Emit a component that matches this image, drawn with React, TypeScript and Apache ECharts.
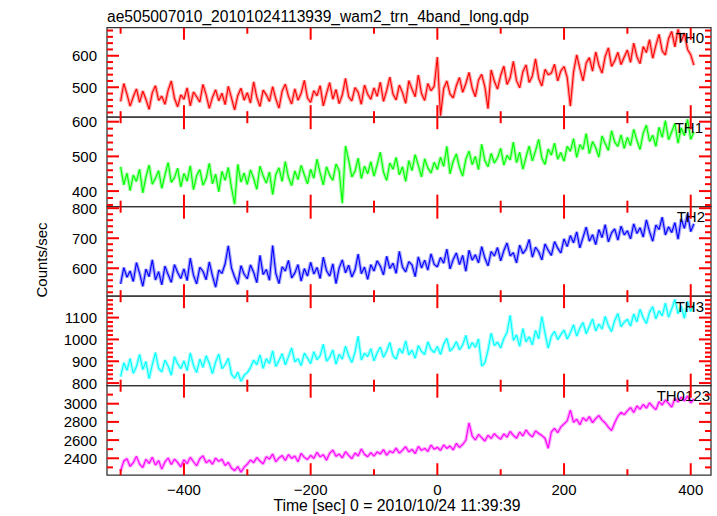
import React, { useEffect, useRef } from 'react';
import * as echarts from 'echarts';

// ---------------- data ----------------
const TITLE = 'ae505007010_20101024113939_wam2_trn_4band_long.qdp';
const X_NAME = 'Time [sec] 0 = 2010/10/24 11:39:39';
const Y_NAME = 'Counts/sec';

const T_START = -500; // time of first bin (sec)
const T_STEP = 5; // bin width (sec)

const X_MIN = -521.5;
const X_MAX = 432;
const X_MAJOR = [-400, -200, 0, 200, 400];
const X_MINOR = [-500, -300, -100, 100, 300];

const BANDS = ['TH0', 'TH1', 'TH2', 'TH3', 'TH0123'];

const TH0 = [
  455, 512, 478, 440, 470, 495, 452, 488, 461, 430, 483, 505, 458, 472, 446, 490, 520, 465, 438, 476,
  462, 498, 441, 485, 470, 453, 509, 476, 433, 468, 492, 457, 481, 445, 503, 466, 428, 474, 497, 459,
  483, 450, 517, 468, 439, 491, 476, 455, 502, 463, 434, 488, 510, 471, 447, 495, 459, 481, 522, 466,
  452, 489, 473, 505, 441, 480, 515, 462, 493, 448, 476, 528, 470, 457, 499, 484, 446, 507, 478, 462,
  498, 471, 516, 455, 490, 532, 478, 460, 507, 483, 449, 521, 494, 470, 539, 480, 458, 512, 489, 503,
  596, 410, 496, 520, 478, 466, 505, 531, 484, 512, 547, 497, 470, 523, 541, 502, 432, 555, 519, 494,
  538, 567, 509, 530, 582, 521, 498, 549, 571, 515, 536, 590, 528, 504, 557, 540, 545, 573, 520, 552,
  566, 531, 440, 548, 603, 559, 520, 577, 594, 551, 612, 570, 545, 598, 625, 566, 584, 611, 572, 596,
  618, 579, 640, 597, 575, 629, 610, 651, 592, 633, 668, 615, 603, 655, 677, 628, 684, 646, 672, 620,
  603, 570,
];

const TH1 = [
  470, 418, 452, 401, 446, 428, 463, 395, 441, 475, 420, 437, 459, 408, 447, 482, 425, 439, 466, 412,
  451, 429, 473, 404, 444, 462, 417, 436, 480, 421, 449, 398, 457, 431, 468, 410, 362, 477, 426, 452,
  419, 461, 437, 405, 472, 444, 423, 455, 390, 448, 467, 428, 485, 439, 416, 458, 433, 474, 447, 421,
  463, 437, 492, 452, 418, 470, 446, 431, 478, 459, 365, 530, 489, 441, 457, 495, 436, 472, 450, 485,
  443, 476, 512, 455, 431, 481, 463, 497, 447, 470, 428, 488, 459, 505, 474, 441, 493, 467, 452, 483,
  462, 498, 471, 529, 450, 486, 507, 468, 443, 492, 515, 476, 500, 462, 535, 488, 470, 509, 481, 496,
  523, 475, 503, 490, 541, 482, 512, 463, 498, 530, 487, 516, 549, 495, 477, 521, 504, 538, 492, 511,
  486, 529, 515, 551, 497, 534, 520, 566, 508, 543, 525, 498, 559, 537, 517, 574, 541, 529, 562, 523,
  555, 531, 578, 546, 520, 567, 590, 543, 561, 529, 584, 555, 603, 548, 571, 595, 538, 582, 560, 607,
  549, 571,
];

const TH2 = [
  548, 602, 570, 591, 556, 619, 583, 540, 597, 572, 628, 561, 589, 545, 607, 579, 553, 612, 586, 566,
  598, 559, 634, 577, 548, 603, 590, 562, 621, 575, 537, 594, 583, 615, 675, 601, 571, 547, 609, 580,
  565, 611, 587, 552, 643, 579, 596, 560, 676, 583, 549, 605, 591, 626, 568, 584, 612, 557, 599, 574,
  620, 581, 603, 566, 637, 592, 574, 615, 549, 601, 628, 585, 610, 571, 594, 647, 582, 604, 563, 612,
  591, 625, 607, 578, 640, 599, 617, 583, 656, 604, 588, 622, 611, 572, 638, 601, 627, 594, 648, 613,
  605, 636, 617, 664, 598, 629, 651, 612, 643, 590, 660, 627, 645, 618, 672, 634, 608, 656, 641, 669,
  625, 659, 684, 641, 652, 618, 677, 649, 663, 696, 637, 670, 655, 628, 681, 660, 643, 689, 667, 651,
  698, 672, 709, 685, 721, 668, 703, 737, 690, 712, 679, 729, 702, 745, 688, 718, 731, 694, 740, 711,
  725, 698, 748, 716, 735, 704, 761, 722, 690, 744, 729, 770, 711, 738, 719, 752, 697, 764, 733, 781,
  722, 748,
];

const TH3 = [
  830, 893, 858, 912, 845, 876, 931, 862, 899, 820, 884, 940, 867, 851, 905, 878, 836, 921, 889, 866,
  902, 857, 938, 881, 848, 910, 872, 925, 890, 843, 897, 933, 866, 884, 914, 840, 822, 851, 808, 836,
  848, 871, 905, 884, 929, 867, 912, 890, 948, 876, 903, 935, 884, 921, 961, 897, 912, 880, 937, 915,
  889, 944, 907, 926, 978, 901, 918, 952, 887, 932, 910, 969, 925, 894, 941, 1015, 906, 937, 921, 958,
  902, 939, 965, 918, 947, 986, 925, 910, 958, 937, 993, 929, 951, 914, 972, 945, 931, 989, 954, 940,
  968, 931, 979, 1005, 946, 962, 990, 953, 975, 1018, 957, 986, 964, 1002, 878, 893, 951, 1029, 972, 988,
  961, 1004, 1032, 1110, 995, 1021, 968, 1050, 989, 1012, 975, 1041, 1003, 1105, 1028, 960, 1015, 1037, 999, 1022,
  1043, 1002, 1031, 1067, 1015, 1052, 1078, 1026, 1060, 1094, 1039, 1071, 1048, 1105, 1063, 1036, 1087, 1119, 1058, 1079,
  1092, 1061, 1117, 1080, 1138, 1099, 1073, 1125, 1150, 1094, 1131, 1108, 1166, 1102, 1140, 1183, 1118, 1152, 1097, 1175,
  1128, 1161,
];

const TH0123 = [
  2258, 2370, 2395, 2310, 2352, 2421, 2336, 2298, 2389, 2344, 2412, 2325, 2376, 2281, 2360, 2403, 2332, 2390, 2355, 2305,
  2384, 2341, 2410, 2362, 2318, 2395, 2427, 2350, 2379, 2335, 2402, 2366, 2389, 2320, 2356, 2291, 2265, 2310, 2248, 2302,
  2336, 2381, 2352, 2409, 2370, 2338, 2418, 2391, 2447, 2362, 2405, 2430, 2375, 2441, 2398, 2426, 2362, 2455, 2410, 2387,
  2432, 2398, 2466, 2415, 2440, 2379, 2455, 2490, 2421, 2447, 2405, 2472, 2433, 2395, 2458, 2426, 2503, 2444, 2417, 2462,
  2425, 2470, 2448, 2495, 2433, 2478, 2461, 2512, 2456, 2489, 2527, 2470, 2498, 2452, 2531, 2487, 2509, 2475, 2546, 2500,
  2521, 2486, 2547, 2508, 2535, 2492, 2563, 2520, 2552, 2598, 2790, 2645, 2601, 2662, 2627, 2589, 2653, 2618, 2671, 2635,
  2610, 2668, 2632, 2695, 2651, 2620, 2688, 2645, 2712, 2664, 2635, 2701, 2672, 2650, 2620, 2510, 2690, 2728, 2681, 2745,
  2778, 2812, 2930, 2795, 2830, 2769, 2847, 2810, 2858, 2792, 2835, 2871, 2820, 2788, 2742, 2705, 2790, 2862, 2905, 2880,
  2921, 2958, 2903, 2975, 2940, 2992, 2951, 3010, 2968, 2935, 3022, 2987, 3041, 3003, 2962, 3058, 3019, 3072, 3031, 3085,
  3010, 3052,
];

const SERIES_VALUES = [TH0, TH1, TH2, TH3, TH0123];

const Y_MIN = [405, 355, 507, 788, 2214];
const Y_MAX = [689, 613, 805, 1198, 3198];
const Y_MAJOR = [
  [500, 600],
  [400, 500, 600],
  [600, 700, 800],
  [800, 900, 1000, 1100],
  [2400, 2600, 2800, 3000],
];
const Y_MINOR_STEP = [20, 20, 20, 20, 100];

// ---------------- styles ----------------
const COLORS = ['#ff0000', '#00ff00', '#0000ff', '#00ffff', '#ff00ff'];
const FONT = "'Liberation Sans', Arial, Helvetica, sans-serif";
const AXIS_COLOR = '#333333';
const TICK_COLOR = '#ff0000'; // diagnostic colour, to check the ticks are drawn
const GRID_LEFT = 107;
const GRID_RIGHT = 6;
const GRID_TOP0 = 27.7;
const PANEL_H = 89.5;
const CHART_W = 717;
const LABEL_RIGHT = [704, 703, 705, 704, 710];
const MAJOR_LEN = 12;
const MINOR_LEN = 6;

const fmt = (v: number) => String(v).replace('-', '\u2212');

function minorTicks(min: number, max: number, step: number, majors: number[]) {
  const out: number[] = [];
  for (let v = Math.ceil(min / step) * step; v <= max; v += step) {
    if (!majors.includes(v)) out.push(v);
  }
  return out;
}

export default function App() {
  const ref = useRef<HTMLDivElement>(null);

  useEffect(() => {
    const chart = echarts.init(ref.current!, null, { renderer: 'svg' });
    const grid: any[] = [];
    const xAxis: any[] = [];
    const yAxis: any[] = [];
    const series: any[] = [];
    const graphic: any[] = [];

    SERIES_VALUES.forEach((vals, i) => {
      const top = GRID_TOP0 + i * PANEL_H;
      grid.push({
        left: GRID_LEFT,
        right: GRID_RIGHT,
        top,
        height: PANEL_H,
        show: true,
        borderColor: AXIS_COLOR,
        borderWidth: 1.3,
      });
      const isBottom = i === SERIES_VALUES.length - 1;
      xAxis.push({
        type: 'value',
        gridIndex: i,
        min: X_MIN,
        max: X_MAX,
        position: 'bottom',
        axisLine: { show: false, onZero: false },
        splitLine: { show: false },
        axisTick: { show: false },
        axisLabel: {
          show: isBottom,
          customValues: X_MAJOR,
          formatter: fmt,
          color: '#000',
          fontSize: 15,
          fontFamily: FONT,
          margin: 7,
        },
      });
      yAxis.push({
        type: 'value',
        gridIndex: i,
        min: Y_MIN[i],
        max: Y_MAX[i],
        position: 'left',
        axisLine: { show: false, onZero: false },
        splitLine: { show: false },
        axisTick: { show: false },
        axisLabel: {
          show: true,
          customValues: Y_MAJOR[i],
          formatter: fmt,
          color: '#000',
          fontSize: 15,
          fontFamily: FONT,
          margin: 10,
        },
      });

      const data = vals.map((v, k) => [T_START + k * T_STEP, v]);
      series.push({
        type: 'line',
        xAxisIndex: i,
        yAxisIndex: i,
        data,
        showSymbol: false,
        silent: true,
        z: 1,
        lineStyle: { color: COLORS[i], width: 3.5, opacity: 0.35 },
      });
      series.push({
        type: 'line',
        xAxisIndex: i,
        yAxisIndex: i,
        data,
        showSymbol: false,
        silent: true,
        z: 2,
        lineStyle: { color: COLORS[i], width: 1.1 },
      });

      graphic.push({
        type: 'text',
        x: LABEL_RIGHT[i],
        y: top + 9.8,
        z: 10,
        style: {
          text: BANDS[i],
          align: 'right',
          verticalAlign: 'middle',
          fill: '#000',
          font: `15px ${FONT}`,
        },
      });
    });

    graphic.push({
      type: 'text',
      x: 107,
      y: 16,
      style: { text: TITLE, align: 'left', verticalAlign: 'middle', fill: '#000', font: `15.6px ${FONT}` },
    });
    graphic.push({
      type: 'text',
      x: 397,
      y: 505,
      style: { text: X_NAME, align: 'center', verticalAlign: 'middle', fill: '#000', font: `15.8px ${FONT}` },
    });
    graphic.push({
      type: 'text',
      x: 41,
      y: 260,
      rotation: Math.PI / 2,
      style: { text: Y_NAME, align: 'center', verticalAlign: 'middle', fill: '#000', font: `15px ${FONT}` },
    });

    chart.setOption({
      animation: false,
      backgroundColor: '#ffffff',
      grid,
      xAxis,
      yAxis,
      series,
    });

    const tickLine = (x1: number, y1: number, x2: number, y2: number) => ({
      type: 'line',
      z: 50,
      silent: true,
      shape: { x1, y1, x2, y2 },
      style: { stroke: TICK_COLOR, lineWidth: 2 },
    });
    const plotW = CHART_W - GRID_LEFT - GRID_RIGHT;
    SERIES_VALUES.forEach((_, i) => {
      const gTop = GRID_TOP0 + i * PANEL_H;
      const px = (v: number) => {
        const r = chart.convertToPixel({ gridIndex: i } as any, [v, Y_MIN[i]]) as any;
        const n = Array.isArray(r) ? Number(r[0]) : NaN;
        return Number.isFinite(n) ? n : GRID_LEFT + ((v - X_MIN) / (X_MAX - X_MIN)) * plotW;
      };
      const py = (v: number) => {
        const r = chart.convertToPixel({ gridIndex: i } as any, [X_MIN, v]) as any;
        const n = Array.isArray(r) ? Number(r[1]) : NaN;
        return Number.isFinite(n) ? n : gTop + ((Y_MAX[i] - v) / (Y_MAX[i] - Y_MIN[i])) * PANEL_H;
      };
      const left = px(X_MIN);
      const right = px(X_MAX);
      const bottom = py(Y_MIN[i]);
      const topY = py(Y_MAX[i]);
      const xTicks: [number, number][] = [
        ...X_MAJOR.map((v) => [v, MAJOR_LEN] as [number, number]),
        ...X_MINOR.map((v) => [v, MINOR_LEN] as [number, number]),
      ];
      xTicks.forEach(([v, len]) => {
        const x = px(v);
        graphic.push(tickLine(x, bottom, x, bottom - len));
        graphic.push(tickLine(x, topY, x, topY + len));
      });
      const yMinor = minorTicks(Y_MIN[i], Y_MAX[i], Y_MINOR_STEP[i], Y_MAJOR[i]);
      const yTicks: [number, number][] = [
        ...Y_MAJOR[i].map((v) => [v, MAJOR_LEN] as [number, number]),
        ...yMinor.map((v) => [v, MINOR_LEN] as [number, number]),
      ];
      yTicks.forEach(([v, len]) => {
        const y = py(v);
        graphic.push(tickLine(left, y, left + len, y));
        graphic.push(tickLine(right, y, right - len, y));
      });
    });

    chart.setOption({ graphic });
    return () => chart.dispose();
  }, []);

  return (
    <div
      ref={ref}
      style={{ position: 'fixed', left: 0, top: 0, width: 717, height: 516 }}
    />
  );
}
